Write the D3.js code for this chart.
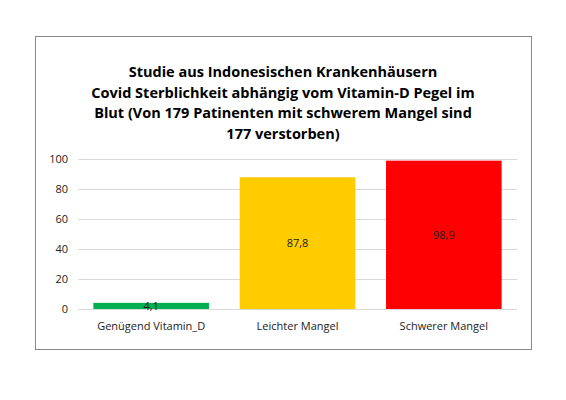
<!DOCTYPE html>
<html><head><meta charset="utf-8">
<script src="https://cdn.jsdelivr.net/npm/d3@7"></script>
<style>body{margin:0;background:#fff}svg{display:block}</style>
</head><body>
<script>
const categories = ["Genügend Vitamin_D", "Leichter Mangel", "Schwerer Mangel"];
const values = [4.1, 87.8, 98.9];
const valueLabels = ["4,1", "87,8", "98,9"];
const colors = ["#00B050", "#FFCC00", "#FF0000"];
const yTicks = [0, 20, 40, 60, 80, 100];
const titleLines = ["Studie aus Indonesischen Krankenhäusern",
  "Covid Sterblichkeit abhängig vom Vitamin-D Pegel im",
  "Blut (Von 179 Patinenten mit schwerem Mangel sind",
  "177 verstorben)"];

const W = 566, H = 400;
const svg = d3.select("body").append("svg").attr("width", W).attr("height", H)
  .style("font-family", "'Open Sans', 'Liberation Sans', sans-serif");
svg.append("rect").attr("x", 35.5).attr("y", 36.5).attr("width", 496).attr("height", 313)
  .attr("fill", "#fff").attr("stroke", "#888");

const x = d3.scaleBand().domain(categories).range([78, 517]).paddingInner(0.21).paddingOuter(0.105);
const y = d3.scaleLinear().domain([0, 100]).range([309, 159]);

svg.append("g").selectAll("line").data(yTicks).join("line")
  .attr("x1", 78).attr("x2", 517).attr("y1", d => Math.round(y(d)) + 0.5).attr("y2", d => Math.round(y(d)) + 0.5)
  .attr("stroke", "#d9d9d9");
svg.append("g").selectAll("text").data(yTicks).join("text")
  .attr("x", 68).attr("y", d => y(d) + 4).attr("text-anchor", "end")
  .attr("font-size", 11).attr("fill", "#222").text(d => d);

svg.append("g").selectAll("rect").data(values).join("rect")
  .attr("x", (d, i) => x(categories[i])).attr("width", x.bandwidth())
  .attr("y", d => y(d)).attr("height", d => y(0) - y(d))
  .attr("fill", (d, i) => colors[i]);
svg.append("g").selectAll("text").data(values).join("text")
  .attr("x", (d, i) => x(categories[i]) + x.bandwidth() / 2)
  .attr("y", d => (y(d) + y(0)) / 2 + 4).attr("text-anchor", "middle")
  .attr("font-size", 11).attr("fill", "#222").text((d, i) => valueLabels[i]);

svg.append("g").selectAll("text").data(categories).join("text")
  .attr("x", d => x(d) + x.bandwidth() / 2).attr("y", 330).attr("text-anchor", "middle")
  .attr("font-size", 11).attr("fill", "#222").text(d => d);

svg.append("g").selectAll("text").data(titleLines).join("text")
  .attr("x", 283).attr("y", (d, i) => 77 + i * 20.5).attr("text-anchor", "middle")
  .attr("font-size", 14.5).attr("font-weight", "bold").attr("fill", "#000").text(d => d);
</script>
</body></html>
